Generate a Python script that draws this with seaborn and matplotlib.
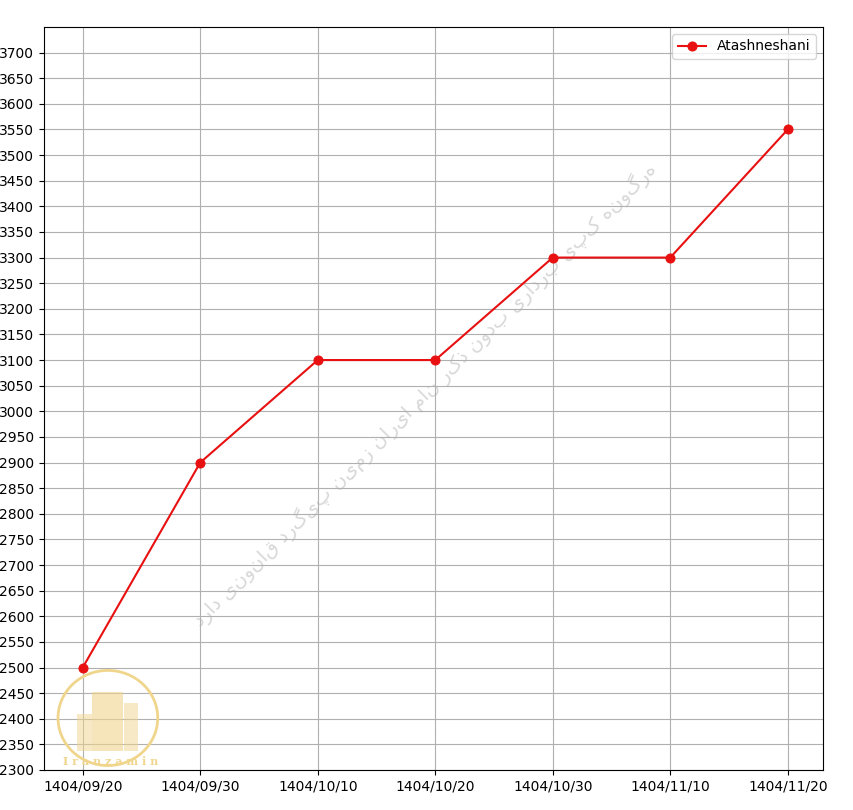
import matplotlib
matplotlib.use("Agg")
import matplotlib.pyplot as plt
import seaborn as sns
import pandas as pd
from matplotlib.patches import Circle, Rectangle

dates = ["1404/09/20", "1404/09/30", "1404/10/10", "1404/10/20", "1404/10/30", "1404/11/10", "1404/11/20"]
prices = [2500, 2900, 3100, 3100, 3300, 3300, 3550]
series_name = "Atashneshani"
y_ticks = list(range(2300, 3701, 50))

df = pd.DataFrame({"date": dates, "price": prices, "series": series_name})

fig = plt.figure(figsize=(8.54, 8.10), dpi=100)
ax = fig.add_axes([0.0515, 0.0494, 0.9122, 0.9173])

sns.lineplot(data=df, x="date", y="price", hue="series", palette=["#e81010"],
             marker="o", markersize=6.5, markeredgecolor="#e81010", linewidth=1.5,
             sort=False, ax=ax)

ax.set_xlim(-0.33, 6.3)
ax.set_ylim(2300, 3750)
ax.set_yticks(y_ticks)
ax.grid(True, color="#b0b0b0", linewidth=0.8)
ax.set_axisbelow(True)
ax.set_xlabel("")
ax.set_ylabel("")
ax.tick_params(labelsize=10)
leg = ax.legend(loc="upper right", fontsize=10)

# watermark text
wm = "هرگونه کپی برداری بدون ذکر نام ایران زمین پیگرد قانونی دارد"
ax.text(0.489, 0.505, wm[::-1], transform=ax.transAxes, rotation=45,
        ha="center", va="center", fontsize=14, color="#c8c8c8", alpha=0.7,
        family=["DejaVu Sans"], zorder=0.5)

# logo approximation
gold = "#f0d58c"
ax.add_patch(Circle((0.082, 0.07), 0.064, transform=ax.transAxes,
                    fill=False, edgecolor=gold, linewidth=2, zorder=1))
ax.add_patch(Rectangle((0.062, 0.025), 0.04, 0.08, transform=ax.transAxes,
                       facecolor=gold, edgecolor="none", alpha=0.6, zorder=1))
ax.add_patch(Rectangle((0.043, 0.025), 0.018, 0.05, transform=ax.transAxes,
                       facecolor=gold, edgecolor="none", alpha=0.5, zorder=1))
ax.add_patch(Rectangle((0.103, 0.025), 0.018, 0.065, transform=ax.transAxes,
                       facecolor=gold, edgecolor="none", alpha=0.5, zorder=1))
ax.text(0.085, 0.011, "I r a n z a m i n", transform=ax.transAxes, ha="center",
        va="center", fontsize=8, fontweight="bold", color=gold,
        family="DejaVu Serif", zorder=1)

fig.savefig("out.png", dpi=100)
